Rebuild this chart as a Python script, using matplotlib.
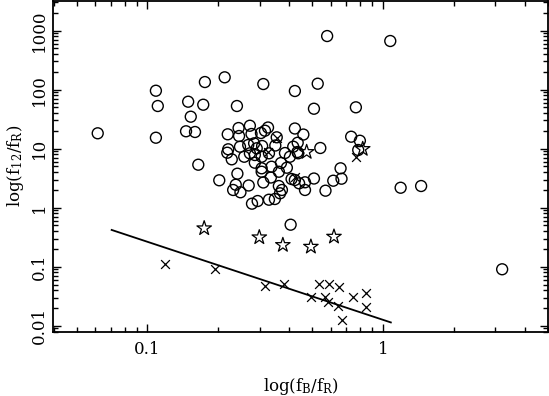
import numpy as np
import matplotlib
matplotlib.use("Agg")
import matplotlib.pyplot as plt
from matplotlib.ticker import LogLocator, FixedLocator, FixedFormatter, NullFormatter

plt.rcParams['font.family'] = ['DejaVu Serif']
plt.rcParams['mathtext.fontset'] = 'dejavuserif'
plt.rcParams['mathtext.default'] = 'regular'

# === DATA (log10 values) ===
circ_logx = [-1.211, -0.964, -0.956, -0.964, -0.827, -0.816, -0.836, -0.798, -0.763, -0.756,
             -0.672, -0.620, -0.508, -0.374, -0.237, 0.031, -0.277, -0.293, -0.115, -0.784,
             0.075, 0.162, 0.506, -0.392,
             -0.659, -0.613, -0.565, -0.488, -0.374, -0.611, -0.558, -0.518, -0.501, -0.451,
             -0.338, -0.657, -0.661, -0.607, -0.572, -0.547, -0.536, -0.513, -0.457, -0.416,
             -0.381, -0.363, -0.362, -0.642, -0.589, -0.565, -0.544, -0.515, -0.484, -0.544,
             -0.515, -0.473, -0.433, -0.395, -0.408, -0.442, -0.515, -0.618, -0.695, -0.625,
             -0.636, -0.605, -0.570, -0.508, -0.476, -0.442, -0.429, -0.437, -0.388, -0.374,
             -0.356, -0.331, -0.293, -0.556, -0.532, -0.484, -0.459, -0.360, -0.266, -0.244,
             -0.211, -0.180, -0.176, -0.331, -0.135, -0.098, -0.105]
circ_logy = [1.260, 1.981, 1.722, 1.185, 1.795, 1.541, 1.294, 1.282, 1.744, 2.128,
             2.208, 1.722, 2.094, 1.976, 2.907, 2.823, 2.100, 1.676, 1.700, 0.728,
             0.338, 0.367, -1.043, -0.288,
             1.243, 1.349, 1.388, 1.358, 1.341, 1.214, 1.248, 1.265, 1.304, 1.192,
             1.239, 0.989, 0.931, 1.033, 1.062, 1.090, 1.006, 1.045, 1.053, 0.926,
             1.033, 0.943, 1.100, 0.819, 0.863, 0.921, 0.892, 0.863, 0.921, 0.762,
             0.667, 0.694, 0.757, 0.863, 0.677, 0.609, 0.609, 0.576, 0.464, 0.389,
             0.300, 0.261, 0.376, 0.427, 0.511, 0.367, 0.300, 0.244, 0.486, 0.469,
             0.413, 0.300, 0.494, 0.068, 0.113, 0.135, 0.147, 0.921, 1.011, 0.288,
             0.457, 0.667, 0.491, 0.430, 1.202, 1.134, 0.977]

star_logx = [-0.759, -0.525, -0.425, -0.306, -0.208, -0.324, -0.086]
star_logy = [-0.349, -0.502, -0.632, -0.661, -0.491, 0.943, 0.994]

cross_logx = [-0.926, -0.713, -0.501, -0.420, -0.306, -0.271, -0.229, -0.186, -0.246, -0.235,
              -0.190, -0.129, -0.072, -0.072, -0.174, -0.115, -0.486, -0.374, -0.450]
cross_logy = [-0.954, -1.043, -1.323, -1.292, -1.518, -1.297, -1.297, -1.348, -1.507, -1.602,
              -1.660, -1.507, -1.450, -1.677, -1.894, 0.858, 0.935, 0.520, 1.180]

line_x = [0.0705, 1.08]
line_y = [0.42, 0.0114]

xticks = [0.1, 1]
xticklabels = ["0.1", "1"]
yticks = [0.01, 0.1, 1, 10, 100, 1000]
yticklabels = ["0.01", "0.1", "1", "10", "100", "1000"]

# === FIGURE ===
fig = plt.figure(figsize=(5.49, 3.96), dpi=100)
ax = fig.add_axes([0.0969, 0.1624, 0.901, 0.835])

ax.scatter(10 ** np.array(circ_logx), 10 ** np.array(circ_logy), s=62, marker='o',
           facecolors='none', edgecolors='black', linewidths=1.0, zorder=3)
ax.scatter(10 ** np.array(star_logx), 10 ** np.array(star_logy), s=120, marker='*',
           facecolors='none', edgecolors='black', linewidths=0.9, zorder=3)
ax.scatter(10 ** np.array(cross_logx), 10 ** np.array(cross_logy), s=40, marker='x',
           color='black', linewidths=0.9, zorder=3)
ax.plot(line_x, line_y, color='black', lw=1.3, zorder=2)

ax.set_xscale('log')
ax.set_yscale('log')
ax.set_xlim(10 ** -1.4, 10 ** 0.7)
ax.set_ylim(10 ** -2.1, 10 ** 3.5)

ax.xaxis.set_major_locator(FixedLocator(xticks))
ax.xaxis.set_major_formatter(FixedFormatter(xticklabels))
ax.yaxis.set_major_locator(FixedLocator(yticks))
ax.yaxis.set_major_formatter(FixedFormatter(yticklabels))
ax.xaxis.set_minor_locator(LogLocator(base=10, subs=np.arange(2, 10), numticks=20))
ax.yaxis.set_minor_locator(LogLocator(base=10, subs=np.arange(2, 10), numticks=20))
ax.xaxis.set_minor_formatter(NullFormatter())
ax.yaxis.set_minor_formatter(NullFormatter())

ax.tick_params(which='both', direction='in', top=True, right=True, width=1.0, labelsize=12)
ax.tick_params(which='major', length=6)
ax.tick_params(which='minor', length=3.5)
ax.tick_params(axis='x', pad=7)
for lab in ax.get_yticklabels():
    lab.set_rotation(90)
    lab.set_va('center')
for sp in ax.spines.values():
    sp.set_linewidth(1.3)

ax.set_xlabel(r'log(f$_\mathrm{B}$/f$_\mathrm{R}$)', fontsize=12, labelpad=13)
ax.set_ylabel(r'log(f$_\mathrm{12}$/f$_\mathrm{R}$)', fontsize=12, labelpad=4)

fig.savefig("out.png", dpi=100)
